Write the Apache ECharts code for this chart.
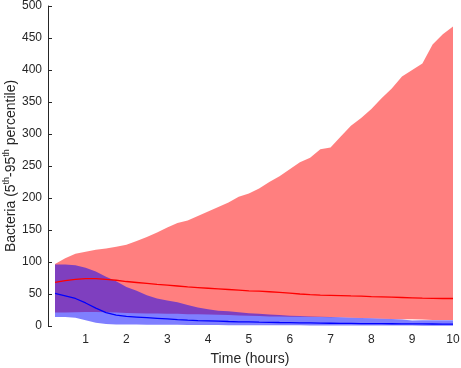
<!DOCTYPE html>
<html>
<head>
<meta charset="utf-8">
<script src="https://cdn.jsdelivr.net/npm/echarts@6/dist/echarts.min.js"></script>
<style>
html, body { margin: 0; padding: 0; background: #fff; }
#chart { width: 461px; height: 368px; }
</style>
</head>
<body>
<div id="chart"></div>
<script>
// time points (hours)
var times = [0.25, 0.5, 0.75, 1, 1.25, 1.5, 1.75, 2, 2.25, 2.5, 2.75, 3, 3.25, 3.5, 3.75, 4,
	4.25, 4.5, 4.75, 5, 5.25, 5.5, 5.75, 6, 6.25, 6.5, 6.75, 7, 7.25, 7.5, 7.75, 8,
	8.25, 8.5, 8.75, 9, 9.25, 9.5, 9.75, 10];

// red group: 5th / 95th percentile and median
var redUpper = [97, 106, 113, 116, 119, 121, 124, 127, 133, 139, 146, 154, 161, 165, 172, 179,
	186, 193, 202, 207, 215, 225, 234, 245, 256, 263, 276, 279, 296, 313, 325, 339,
	356, 371, 390, 400, 410, 440, 456, 468];
var redLower = [21, 21, 21.5, 22, 22, 21.5, 21, 20.5, 20, 19.5, 19.5, 19, 19, 18.5, 18.5, 18,
	17.5, 17, 16.5, 16, 15.5, 15, 15, 14.5, 14.5, 14, 14, 13.5, 13.5, 13, 12.5, 12,
	11.5, 11, 10.5, 10.5, 10, 9.5, 9.5, 9.5];
var redMedian = [68, 71, 73, 74, 74, 73, 71.5, 69.5, 68, 66.5, 65, 64, 62.5, 61, 60, 59,
	58, 57, 56, 55, 54.5, 53.5, 52.5, 51.5, 50, 49, 48.3, 48, 47.5, 47, 46.8, 46,
	45.5, 45, 44.5, 44, 43.5, 43.2, 43, 43];

// blue group
var blueUpper = [96, 96, 95, 91, 85, 77, 70, 61, 55, 48, 43, 40, 37, 33, 29, 26,
	24, 23, 21.5, 20, 19, 18, 17, 16, 15.5, 15, 14.5, 14, 13.5, 13, 12.5, 12,
	11.5, 11, 10, 8.5, 9, 9, 9, 9];
var blueLower = [14, 14, 13, 9, 5, 3, 2.5, 2.5, 2.2, 2, 2, 2, 1.8, 1.7, 1.6, 1.5,
	1.4, 1.3, 1.2, 1.2, 1.1, 1, 1, 1, 1, 0.9, 0.9, 0.8, 0.8, 0.8, 0.7, 0.7,
	0.7, 0.6, 0.6, 0.6, 0.5, 0.5, 0.5, 0.5];
var blueMedian = [51, 47, 43, 36, 28, 21, 17, 15, 14, 13, 12, 11, 10, 9.2, 8.5, 8,
	7.5, 7, 6.6, 6.3, 6, 5.8, 5.5, 5.3, 5, 4.8, 4.5, 4.3, 4.1, 4, 3.8, 3.7,
	3.6, 3.5, 3.4, 3.3, 3.2, 3.1, 3, 3];

var yTicks = { min: 0, max: 500, step: 50 };

var textColor = '#262626';
var font = 'Liberation Sans, Arial, Helvetica, sans-serif';

function width(upper, lower) {
	return upper.map(function (v, i) { return +(v - lower[i]).toFixed(2); });
}

// band = invisible lower line + stacked filled difference
function band(name, lower, upper, color) {
	return [{
		name: name + ' low',
		type: 'line',
		stack: name,
		data: lower,
		symbol: 'none',
		silent: true,
		lineStyle: { opacity: 0 }
	}, {
		name: name + ' band',
		type: 'line',
		stack: name,
		data: width(upper, lower),
		symbol: 'none',
		silent: true,
		lineStyle: { opacity: 0 },
		areaStyle: { color: color, opacity: 0.5 }
	}];
}

var myChart = echarts.init(document.getElementById('chart'));

var series = [].concat(
	band('red', redLower, redUpper, '#ff0000'),
	band('blue', blueLower, blueUpper, '#0000ff'),
	[{
		name: 'red median',
		type: 'line',
		data: redMedian,
		symbol: 'none',
		lineStyle: { color: '#ff0000', width: 1.3 }
	}, {
		name: 'blue median',
		type: 'line',
		data: blueMedian,
		symbol: 'none',
		lineStyle: { color: '#0000ff', width: 1.3 }
	}]
);

var option = {
	animation: false,
	grid: { left: 55, right: 8, top: 6, bottom: 42, containLabel: false, outerBoundsMode: 'none' },
	xAxis: {
		type: 'category',
		data: times,
		boundaryGap: false,
		name: 'Time (hours)',
		nameLocation: 'middle',
		nameGap: 26,
		nameMoveOverlap: false,
		nameTextStyle: { color: textColor, fontSize: 14, fontFamily: font, padding: [0, 8, 0, 0] },
		axisLine: { show: false },
		axisTick: { show: false },
		axisLabel: {
			color: textColor,
			fontSize: 12,
			fontFamily: font,
			margin: 8,
			interval: function (index, value) {
				return Number(value) % 1 === 0;
			}
		},
		splitLine: { show: false }
	},
	yAxis: {
		type: 'value',
		min: yTicks.min,
		max: yTicks.max,
		interval: yTicks.step,
		offset: 7,
		name: '{n|Bacteria (5}{s|th}{n|-95}{s|th}{n| percentile)}',
		nameLocation: 'middle',
		nameGap: 30,
		nameRotate: 90,
		nameMoveOverlap: false,
		nameTextStyle: {
			color: textColor,
			fontFamily: font,
			rich: {
				n: { fontSize: 14, lineHeight: 16, color: textColor, fontFamily: font, verticalAlign: 'bottom' },
				s: { fontSize: 9, lineHeight: 9, color: textColor, fontFamily: font, verticalAlign: 'top' }
			}
		},
		axisLine: { show: true, lineStyle: { color: textColor, width: 1 } },
		axisTick: { show: true, inside: true, length: 4, lineStyle: { color: textColor } },
		axisLabel: { color: textColor, fontSize: 12, fontFamily: font, margin: 6 },
		splitLine: { show: false }
	},
	series: series
};

myChart.setOption(option);
</script>
</body>
</html>
